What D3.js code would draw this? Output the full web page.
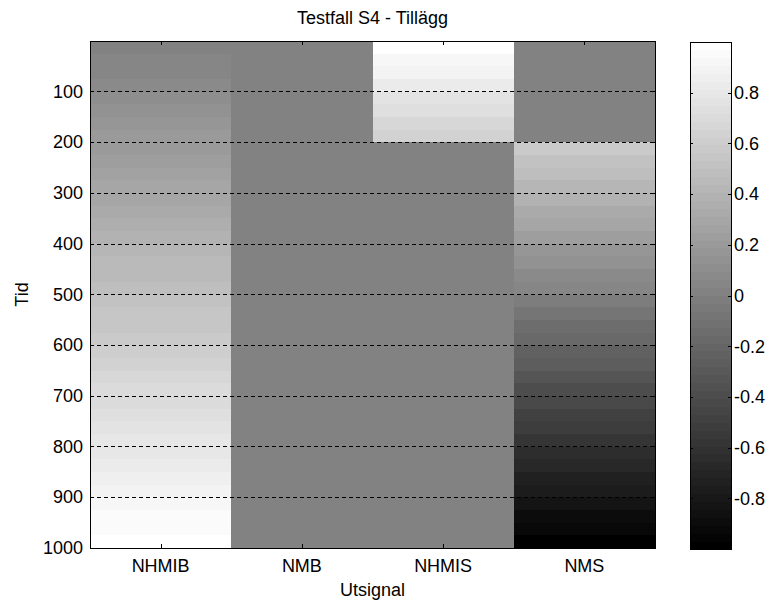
<!DOCTYPE html>
<meta charset="utf-8">
<style>

  body {
      margin: 0;
      background: #fff;
      font: 18px "Liberation Sans", Arial, Helvetica, sans-serif;
  }

  .grid line {
      stroke: #000;
      stroke-dasharray: 4,3;
      shape-rendering: crispEdges;
  }

  .box {
      fill: none;
      stroke: #000;
      shape-rendering: crispEdges;
  }

  .tick-mark {
      stroke: #000;
      shape-rendering: crispEdges;
  }

  .cell {
      shape-rendering: crispEdges;
  }

</style>

<body>

<script src="https://d3js.org/d3.v7.min.js"></script>
<script>

  // columns (utsignal)
  var signals = ["NHMIB", "NMB", "NHMIS", "NMS"];

  // start of each block of 25 time steps
  var tid = [0, 25, 50, 75, 100, 125, 150, 175, 200, 225,
             250, 275, 300, 325, 350, 375, 400, 425, 450, 475,
             500, 525, 550, 575, 600, 625, 650, 675, 700, 725,
             750, 775, 800, 825, 850, 875, 900, 925, 950, 975];
  var blockSize = 25;

  // values, one per block
  var nhmib = [0.01, 0.04, 0.06, 0.09, 0.11, 0.14, 0.16, 0.19, 0.21, 0.24,
               0.26, 0.29, 0.31, 0.34, 0.36, 0.39, 0.41, 0.44, 0.46, 0.49,
               0.51, 0.54, 0.56, 0.59, 0.61, 0.64, 0.66, 0.69, 0.71, 0.74,
               0.76, 0.79, 0.81, 0.84, 0.86, 0.89, 0.91, 0.94, 0.96, 0.99];
  var nmb   = [0, 0, 0, 0, 0, 0, 0, 0, 0, 0,
               0, 0, 0, 0, 0, 0, 0, 0, 0, 0,
               0, 0, 0, 0, 0, 0, 0, 0, 0, 0,
               0, 0, 0, 0, 0, 0, 0, 0, 0, 0];
  var nhmis = [0.98, 0.93, 0.88, 0.83, 0.78, 0.73, 0.68, 0.63, 0, 0,
               0, 0, 0, 0, 0, 0, 0, 0, 0, 0,
               0, 0, 0, 0, 0, 0, 0, 0, 0, 0,
               0, 0, 0, 0, 0, 0, 0, 0, 0, 0];
  var nms   = [0, 0, 0, 0, 0, 0, 0, 0, 0.58, 0.53,
               0.48, 0.43, 0.38, 0.33, 0.28, 0.23, 0.18, 0.13, 0.08, 0.03,
               -0.03, -0.08, -0.13, -0.18, -0.23, -0.28, -0.33, -0.38, -0.43, -0.48,
               -0.53, -0.58, -0.63, -0.68, -0.73, -0.78, -0.83, -0.88, -0.93, -0.98];

  var yTicks = [100, 200, 300, 400, 500, 600, 700, 800, 900, 1000];
  var cTicks = [-0.8, -0.6, -0.4, -0.2, 0, 0.2, 0.4, 0.6, 0.8];

  var series = [nhmib, nmb, nhmis, nms];

  var W = 769, H = 602,
      plot = { left: 90, right: 655, top: 41, bottom: 548 },
      cbar = { left: 690, right: 731, top: 42, bottom: 549 },
      nColors = 64;

  var svg = d3.select("body").append("svg")
      .attr("width", W)
      .attr("height", H);

  var x = d3.scaleBand()
      .domain(signals)
      .range([plot.left, plot.right]);

  var y = d3.scaleLinear()
      .domain([0.5, 1000.5])
      .range([plot.top, plot.bottom]);

  // matlab style gray colormap with 64 steps, clim [-1 1]
  var grays = d3.range(nColors).map(function(i) {
      var g = Math.round(i / (nColors - 1) * 255);
      return d3.rgb(g, g, g).toString();
  });
  var color = d3.scaleQuantize()
      .domain([-1.005, 1])
      .range(grays);

  var cells = [];
  series.forEach(function(vals, j) {
      vals.forEach(function(v, i) {
          cells.push({ sig: signals[j], t0: tid[i], t1: tid[i] + blockSize, v: v });
      });
  });

  svg.append("g").selectAll("rect")
      .data(cells)
      .enter().append("rect")
      .attr("class", "cell")
      .attr("x", function(d) { return x(d.sig); })
      .attr("width", x.bandwidth())
      .attr("y", function(d) { return y(d.t0 + 0.5); })
      .attr("height", function(d) { return y(d.t1 + 0.5) - y(d.t0 + 0.5) + 0.5; })
      .attr("fill", function(d) { return color(d.v); });

  // dashed grid lines
  svg.append("g")
      .attr("class", "grid")
      .selectAll("line")
      .data(yTicks)
      .enter().append("line")
      .attr("x1", plot.left)
      .attr("x2", plot.right)
      .attr("y1", function(d) { return Math.round(y(d)) + 0.5; })
      .attr("y2", function(d) { return Math.round(y(d)) + 0.5; });

  var ticks = svg.append("g").attr("class", "tick-mark");

  // y ticks, both sides
  yTicks.forEach(function(t) {
      var yy = Math.round(y(t)) + 0.5;
      ticks.append("line").attr("x1", plot.left).attr("x2", plot.left + 4).attr("y1", yy).attr("y2", yy);
      ticks.append("line").attr("x1", plot.right - 4).attr("x2", plot.right).attr("y1", yy).attr("y2", yy);
  });

  // x ticks, top and bottom
  signals.forEach(function(s) {
      var xx = Math.round(x(s) + x.bandwidth() / 2) + 0.5;
      ticks.append("line").attr("x1", xx).attr("x2", xx).attr("y1", plot.top).attr("y2", plot.top + 4);
      ticks.append("line").attr("x1", xx).attr("x2", xx).attr("y1", plot.bottom - 4).attr("y2", plot.bottom);
  });

  svg.append("rect")
      .attr("class", "box")
      .attr("x", plot.left + 0.5)
      .attr("y", plot.top + 0.5)
      .attr("width", plot.right - plot.left)
      .attr("height", plot.bottom - plot.top);

  // tick labels
  svg.append("g").selectAll("text")
      .data(yTicks)
      .enter().append("text")
      .attr("x", plot.left - 7)
      .attr("y", function(d) { return y(d); })
      .attr("dy", "0.35em")
      .style("text-anchor", "end")
      .text(function(d) { return d; });

  svg.append("g").selectAll("text")
      .data(signals)
      .enter().append("text")
      .attr("x", function(d) { return x(d) + x.bandwidth() / 2; })
      .attr("y", plot.bottom + 24)
      .style("text-anchor", "middle")
      .text(function(d) { return d; });

  svg.append("text")
      .attr("x", (plot.left + plot.right) / 2)
      .attr("y", 24)
      .style("text-anchor", "middle")
      .text("Testfall S4 - Tillägg");

  svg.append("text")
      .attr("x", (plot.left + plot.right) / 2)
      .attr("y", 596)
      .style("text-anchor", "middle")
      .text("Utsignal");

  svg.append("text")
      .attr("transform", "translate(28," + ((plot.top + plot.bottom) / 2) + ") rotate(-90)")
      .style("text-anchor", "middle")
      .text("Tid");

  // colorbar
  var c = d3.scaleLinear()
      .domain([1, -1])
      .range([cbar.top, cbar.bottom]);

  svg.append("g").selectAll("rect")
      .data(grays)
      .enter().append("rect")
      .attr("class", "cell")
      .attr("x", cbar.left)
      .attr("width", cbar.right - cbar.left)
      .attr("y", function(d, i) { return c(-1 + (i + 1) * 2 / nColors); })
      .attr("height", (cbar.bottom - cbar.top) / nColors + 0.5)
      .attr("fill", function(d) { return d; });

  cTicks.forEach(function(t) {
      var yy = Math.round(c(t)) + 0.5;
      ticks.append("line").attr("x1", cbar.left).attr("x2", cbar.left + 3).attr("y1", yy).attr("y2", yy);
      ticks.append("line").attr("x1", cbar.right - 3).attr("x2", cbar.right).attr("y1", yy).attr("y2", yy);
  });
  ticks.raise();

  svg.append("rect")
      .attr("class", "box")
      .attr("x", cbar.left + 0.5)
      .attr("y", cbar.top + 0.5)
      .attr("width", cbar.right - cbar.left)
      .attr("height", cbar.bottom - cbar.top);

  svg.append("g").selectAll("text")
      .data(cTicks)
      .enter().append("text")
      .attr("x", cbar.right + 3)
      .attr("y", function(d) { return c(d); })
      .attr("dy", "0.35em")
      .text(function(d) { return d; });

</script>
